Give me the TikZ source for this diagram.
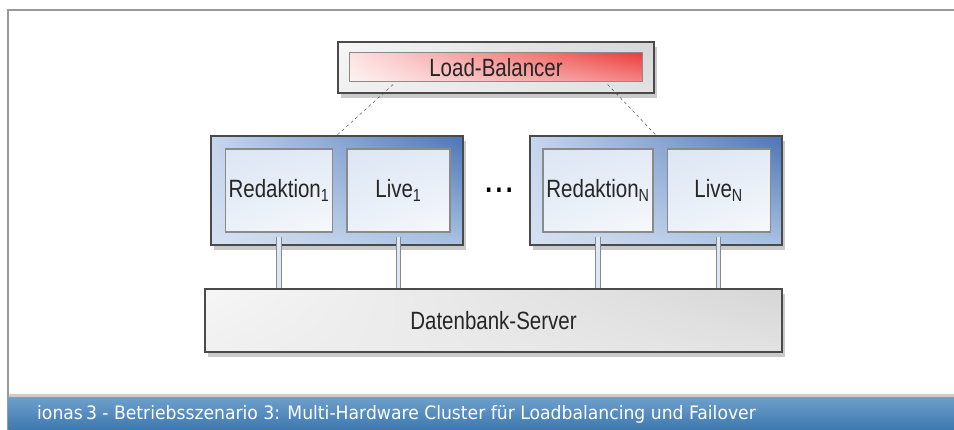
\documentclass[tikz,border=0pt]{standalone}
\usepackage{fontspec}
\usetikzlibrary{positioning, shadows, shadings, calc}
\newfontfamily\narrowfont[FakeStretch=0.82]{Liberation Sans}
\newfontfamily\bannerfont[FakeStretch=0.93]{DejaVu Sans}
\definecolor{frameline}{HTML}{999999}
\definecolor{boxline}{HTML}{4A4A4A}
\definecolor{innerline}{HTML}{8A8A8A}
\definecolor{bannertop}{HTML}{6E9FCB}
\definecolor{bannerbot}{HTML}{3D78B0}
\definecolor{clul}{HTML}{C6D6EE}
\definecolor{clur}{HTML}{4C74B6}
\definecolor{clll}{HTML}{D6E2F2}
\definecolor{cllr}{HTML}{A8C2E2}
\definecolor{srul}{HTML}{DCE6F3}
\definecolor{srur}{HTML}{E2EAF6}
\definecolor{srll}{HTML}{ECF1F9}
\definecolor{srlr}{HTML}{F6F9FC}
\definecolor{gyul}{HTML}{F6F6F6}
\definecolor{gyur}{HTML}{D6D6D6}
\definecolor{gyll}{HTML}{F0F0F0}
\definecolor{gylr}{HTML}{E2E2E2}
\definecolor{rdul}{HTML}{FCE2E2}
\definecolor{rdur}{HTML}{EC3C3C}
\definecolor{rdll}{HTML}{FFF2F2}
\definecolor{rdlr}{HTML}{F48888}
\definecolor{linkfill}{HTML}{DEE8F4}

\begin{document}
\begin{tikzpicture}[x=1pt, y=-1pt]
\tikzstyle{cluster}=[rectangle, minimum width=252pt, minimum height=109pt, draw=boxline, line width=1.5pt,
  upper left=clul, upper right=clur, lower left=clll, lower right=cllr,
  drop shadow={shadow xshift=3pt, shadow yshift=-5pt, opacity=0.35, fill=black!60}]
\tikzstyle{server}=[rectangle, minimum width=103pt, minimum height=83pt, draw=innerline, line width=1.2pt,
  upper left=srul, upper right=srur, lower left=srll, lower right=srlr,
  font=\narrowfont\fontsize{25}{28}\selectfont, text=black!85]
\tikzstyle{graybox}=[rectangle, draw=boxline, line width=1.5pt,
  upper left=gyul, upper right=gyur, lower left=gyll, lower right=gylr,
  drop shadow={shadow xshift=3pt, shadow yshift=-5pt, opacity=0.35, fill=black!60},
  font=\narrowfont\fontsize{25}{28}\selectfont, text=black!85]
\tikzstyle{link}=[draw=innerline, line width=0.8pt, double=linkfill, double distance=3.5pt]
\tikzstyle{wire}=[dashed, black!75, thin]
\useasboundingbox (0,0) rectangle (954,430);

% frame and banner
\draw[frameline, line width=2pt] (954,10.5) -- (7.5,10.5) -- (7.5,430);
\fill[black!20] (8.5,394) rectangle (954,397.5);
\shade[top color=bannertop, bottom color=bannerbot] (8.5,397.5) rectangle (954,430);
\node[anchor=west, text=white, font=\bannerfont\fontsize{18.5}{20}\selectfont, inner sep=0pt] (caption) at (37,414)
  {ionas\,3 - Betriebsszenario 3: Multi-Hardware Cluster für Loadbalancing und Failover};

% load balancer
\node[graybox, minimum width=316pt, minimum height=51pt] (lb) at (496,67.5) {};
\node[rectangle, minimum width=293pt, minimum height=29pt, draw=innerline, line width=1pt,
  upper left=rdul, upper right=rdur, lower left=rdll, lower right=rdlr,
  font=\narrowfont\fontsize{25}{28}\selectfont, text=black!85] (lbbar) at (lb.center) {Load-Balancer};

% cluster 1
\node[cluster] (c1) at (337,190.5) {};
\node[server] (red1) at (279,190.5) {Redaktion\textsubscript{1}};
\node[server] (live1) [right=13pt of red1] {Live\textsubscript{1}};

% cluster N
\node[cluster] (cN) at (656,190.5) {};
\node[server] (redN) at (598,190.5) {Redaktion\textsubscript{N}};
\node[server] (liveN) [right=13pt of redN] {Live\textsubscript{N}};

\node[font=\narrowfont\fontsize{30}{30}\selectfont\bfseries] (dots) at (499,190) {.\hspace{3.5pt}.\hspace{3.5pt}.};

% database
\node[graybox, minimum width=577pt, minimum height=63pt] (db) at (493.5,320.5) {Datenbank-Server};

\path[link] (red1.south) ++(0,4) -- (red1.south |- db.north)
            (live1.south) ++(0,4) -- (live1.south |- db.north)
            (redN.south) ++(0,4) -- (redN.south |- db.north)
            (liveN.south) ++(0,4) -- (liveN.south |- db.north);

\draw[wire] ($(lbbar.south)!0.7!(lbbar.south west)$) ++(0,2) -- (c1.north);
\draw[wire] ($(lbbar.south)!0.76!(lbbar.south east)$) ++(0,2) -- (cN.north);
\end{tikzpicture}
\end{document}
